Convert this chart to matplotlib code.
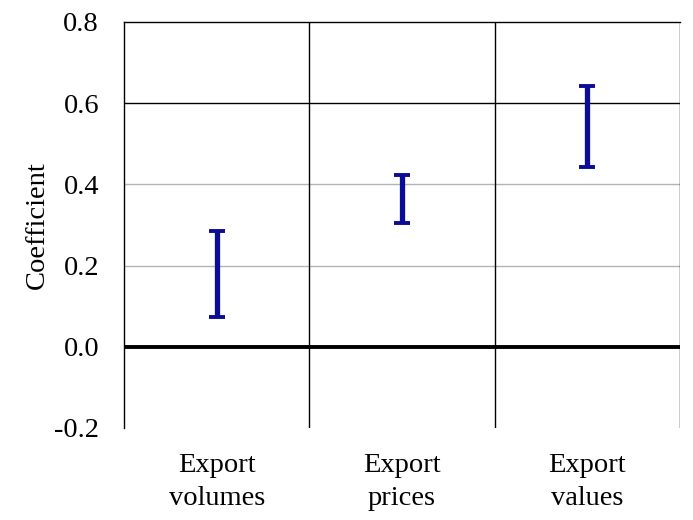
import numpy as np
import matplotlib.pyplot as plt

# data
categories = ["Export\nvolumes", "Export\nprices", "Export\nvalues"]
upper = [0.285, 0.423, 0.642]
lower = [0.073, 0.305, 0.443]

plt.rcParams["font.family"] = ["Liberation Serif", "DejaVu Serif"]

fig = plt.figure(figsize=(6.93, 5.2), dpi=100)
ax = fig.add_axes([0.179, 0.177, 0.802, 0.781])

x = np.arange(len(categories)) + 0.5
lo = np.array(lower)
hi = np.array(upper)
mid = (lo + hi) / 2

# grid / frame
for yv in [0.2, 0.4]:
    ax.axhline(yv, color="#b4b4b4", lw=1.0, zorder=1)
ax.axhline(0.6, color="black", lw=1.0, zorder=1)
for xv in [1, 2, 3]:
    ax.axvline(xv, color="black", lw=1.0, zorder=1)
ax.axhline(0.0, color="black", lw=2.8, zorder=2)

ax.errorbar(x, mid, yerr=[mid - lo, hi - mid], fmt="none",
            ecolor="#0c0c96", elinewidth=3.8, capsize=5.5, capthick=2.8, zorder=3)

ax.set_xlim(0, 3)
ax.set_ylim(-0.2, 0.8)
ax.set_yticks(np.arange(-0.2, 0.81, 0.2))
ax.set_yticklabels([f"{v:.1f}" for v in np.arange(-0.2, 0.81, 0.2)])
ax.set_xticks(x)
ax.set_xticklabels(categories, linespacing=1.42)
ax.tick_params(axis="both", length=0, labelsize=20.5)
ax.tick_params(axis="y", pad=18)
ax.tick_params(axis="x", pad=18)
ax.set_ylabel("Coefficient", fontsize=20.5, labelpad=3)

ax.spines["bottom"].set_visible(False)
ax.spines["right"].set_visible(False)
for s in ["left", "top"]:
    ax.spines[s].set_linewidth(1.0)

fig.savefig("out.png", dpi=100)
